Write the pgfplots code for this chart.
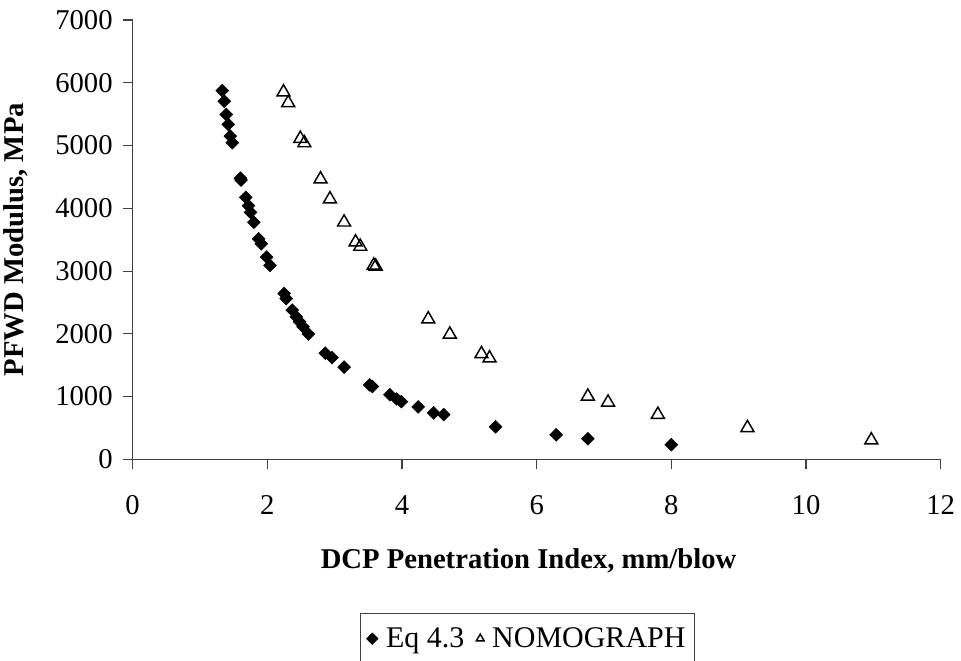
\documentclass[border=0pt]{standalone}
\usepackage{pgfplots}
\pgfplotsset{compat=1.18}
\usepackage{fontspec}
\setmainfont{Liberation Serif}
\newcommand\tickfont{\fontsize{21.5}{25}\selectfont}
\begin{document}
\begin{tikzpicture}
\begin{axis}[
  name=ax,
  scale only axis,
  width=606pt, height=329.5pt,
  xmin=0, xmax=12, ymin=0, ymax=7000,
  xtick={0,2,...,12}, ytick={0,1000,...,7000},
  axis x line*=bottom, axis y line*=left,
  axis line style={draw=black!75, line width=0.8pt},
  tick style={draw=black!75, line width=0.8pt},
  tick align=outside, major tick length=7.5pt,
  /pgf/number format/assume math mode=true,
  /pgf/number format/1000 sep={},
  xticklabel={\tickfont\pgfmathprintnumber{\tick}},
  yticklabel={\tickfont\pgfmathprintnumber{\tick}},
  xticklabel style={yshift=-16pt},
  yticklabel style={xshift=-4pt},
  xlabel={DCP Penetration Index, mm/blow},
  ylabel={PFWD Modulus, MPa},
  every axis x label/.style={at={(axis description cs:0.49,-0.232)}, anchor=center,
    font=\fontsize{21.5}{25}\selectfont\bfseries},
  every axis y label/.style={at={(axis description cs:-0.1448,0.5)}, rotate=90, anchor=center,
    font=\fontsize{21.5}{25}\selectfont\bfseries},
  legend columns=-1,
  legend style={at={(axis description cs:0.4886,-0.349)}, anchor=north,
    draw=black!75, line width=0.6pt, font=\fontsize{22.5}{27}\selectfont,
    inner xsep=5pt, inner ysep=9pt,
    /tikz/every odd column/.append style={column sep=4pt},
    /tikz/every even column/.append style={column sep=7pt}},
  legend image code/.code={\draw[#1] plot coordinates {(0.2cm,0cm)};},
]
\addplot[only marks, mark=square*, mark size=3.4pt, mark options={rotate=45, fill=black, draw=black},
  legend image post style={mark size=3.0pt}] coordinates {
(1.33,5875) (1.36,5705) (1.39,5494) (1.42,5336) (1.45,5150) (1.48,5045)
(1.60,4480) (1.61,4450) (1.68,4173) (1.72,4041) (1.75,3935) (1.80,3777)
(1.87,3513) (1.91,3434) (1.99,3222) (2.04,3090) (2.25,2642) (2.28,2562)
(2.37,2377) (2.43,2271) (2.48,2192) (2.53,2113) (2.61,1997) (2.86,1691)
(2.96,1621) (3.14,1469) (3.52,1185) (3.56,1160) (3.82,1030) (3.92,962)
(3.99,919) (4.24,835) (4.47,740) (4.62,713) (5.39,518) (6.29,391)
(6.76,328) (8.00,233)
};
\addlegendentry{Eq 4.3}
\addplot[only marks, mark=triangle, mark size=5.6pt, mark options={draw=black, line width=1.1pt, fill=white},
  legend image post style={mark size=3.4pt, line width=0.8pt}] coordinates {
(2.24,5850) (2.31,5680) (2.49,5110) (2.55,5040) (2.79,4464) (2.93,4147)
(3.14,3777) (3.31,3460) (3.38,3391) (3.58,3090) (3.61,3074) (4.39,2234)
(4.71,1992) (5.18,1680) (5.30,1612) (6.76,1003) (7.06,908) (7.80,713)
(9.13,502) (10.97,306)
};
\addlegendentry{NOMOGRAPH}
\end{axis}
\pgfresetboundingbox
\path ([xshift=-99.5pt, yshift=-151.25pt]ax.south west) rectangle ([xshift=15.25pt, yshift=15pt]ax.north east);
\end{tikzpicture}
\end{document}
